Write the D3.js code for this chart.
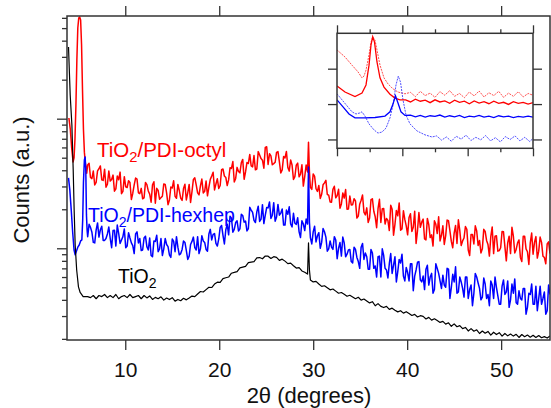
<!DOCTYPE html>
<html><head><meta charset="utf-8">
<script src="https://cdn.jsdelivr.net/npm/d3@7/dist/d3.min.js"></script>
<style>body{margin:0;background:#fff}svg text{font-family:"Liberation Sans",Arial,sans-serif}</style>
</head><body><svg id="chart" width="551" height="408"></svg>
<script>
// ---------- data ----------
const xDomain = [3.8, 55.2];
const yDomain = [19.6, 6200];
const xTicks = [10, 20, 30, 40, 50];
const xTickLabels = ["10", "20", "30", "40", "50"];
const yTicks = [20,30,40,50,60,70,80,90,100,200,300,400,500,600,700,800,900,1000,2000,3000,4000,5000,6000];
const yMajor = [100, 1000];
const xTitle = "2θ (degrees)";
const yTitle = "Counts (a.u.)";
const seriesNames = ["TiO2/PDI-octyl", "TiO2/PDI-hexhep", "TiO2"];

const redLow = [[4.0,1012],[4.15,830],[4.3,592],[4.45,464],[4.55,498],[4.65,701],[4.75,1275],[4.85,2838],[4.95,5012],[5.05,5984],[5.15,6090],[5.25,5777],[5.35,3704],[5.45,1665],[5.55,830],[5.65,552],[5.75,455],[5.85,416],[5.9,380]];
const redMain = [
[6.0,439],[6.3,352],[6.6,395],[6.9,322],[7.2,411],[7.5,337],[7.8,408],[8.1,312],[8.4,330],[8.7,367],
[9.0,287],[9.3,338],[9.6,264],[9.9,357],[10.2,294],[10.5,322],[10.8,266],[11.1,348],[11.4,268],[11.7,290],
[12.0,245],[12.3,310],[12.6,262],[12.9,309],[13.2,223],[13.5,280],[13.8,246],[14.1,314],[14.4,268],[14.7,236],
[15.0,292],[15.3,252],[15.6,311],[15.9,244],[16.2,289],[16.5,236],[16.8,311],[17.1,274],[17.4,350],[17.7,268],
[18.0,303],[18.3,267],[18.6,330],[18.9,296],[19.2,361],[19.5,282],[19.8,344],[20.1,305],[20.4,409],[20.7,352],
[21.0,337],[21.3,413],[21.6,325],[21.9,421],[22.2,382],[22.5,485],[22.8,388],[23.1,451],[23.4,432],[23.7,520],
[24.0,409],[24.3,524],[24.6,478],[24.9,601],[25.2,444],[25.5,516],[25.8,450],[26.1,550],[26.4,467],[26.7,403],
[27.0,498],[27.3,421],[27.6,480],[27.9,340],[28.2,438],[28.5,356],[28.8,441],[29.1,358],[29.4,388],[29.5,657],[29.6,388],
[29.7,295],[30.0,375],[30.3,288],[30.6,305],[30.9,261],[31.2,320],[31.5,260],[31.8,228],[32.1,285],[32.4,245],
[32.7,285],[33.0,220],[33.3,244],[33.6,200],[33.9,253],[34.2,217],[34.5,232],[34.8,177],[35.1,235],[35.4,190],
[35.7,205],[36.0,171],[36.3,241],[36.6,175],[36.9,202],[37.2,158],[37.5,203],[37.8,170],[38.1,137],[38.4,200],
[38.7,153],[39.0,178],[39.3,138],[39.6,195],[39.9,149],[40.2,173],[40.5,135],[40.8,193],[41.1,137],[41.4,145],
[41.7,168],[42.0,116],[42.3,152],[42.6,127],[42.9,163],[43.2,130],[43.5,114],[43.8,149],[44.1,125],[44.4,163],
[44.7,113],[45.0,131],[45.3,109],[45.6,137],[45.9,114],[46.2,147],[46.5,97],[46.8,128],[47.1,108],[47.4,136],
[47.7,115],[48.0,99],[48.3,135],[48.6,107],[48.9,123],[49.2,91],[49.5,125],[49.8,96],[50.1,135],[50.4,103],
[50.7,110],[51.0,91],[51.3,124],[51.6,98],[51.9,116],[52.2,79],[52.5,124],[52.8,94],[53.1,110],[53.4,90],
[53.7,123],[54.0,95],[54.3,111],[54.6,85],[54.9,108],[55.2,91]];
const redMid = [
[6.15,453],[6.45,345],[6.75,308],[7.05,396],[7.35,432],[7.65,334],[7.95,296],[8.25,395],[8.55,340],[8.85,276],
[9.15,361],[9.45,387],[9.75,275],[10.05,298],[10.35,332],[10.65,238],[10.95,308],[11.25,342],[11.55,264],[11.85,241],
[12.15,322],[12.45,277],[12.75,227],[13.05,326],[13.35,290],[13.65,239],[13.95,252],[14.25,311],[14.55,217],[14.85,297],
[15.15,332],[15.45,243],[15.75,279],[16.05,234],[16.35,312],[16.65,268],[16.95,226],[17.25,340],[17.55,308],[17.85,258],
[18.15,342],[18.45,275],[18.75,254],[19.05,340],[19.35,386],[19.65,313],[19.95,289],[20.25,404],[20.55,361],[20.85,305],
[21.15,418],[21.45,467],[21.75,346],[22.05,392],[22.35,457],[22.65,341],[22.95,459],[23.25,530],[23.55,425],[23.85,403],
[24.15,557],[24.45,492],[24.75,415],[25.05,607],[25.35,536],[25.65,441],[25.95,461],[26.25,557],[26.55,381],[26.85,511],
[27.15,558],[27.45,394],[27.75,439],[28.05,357],[28.35,454],[28.65,373],[28.95,302],[29.25,440],[29.85,285],
[30.15,359],[30.45,275],[30.75,242],[31.05,309],[31.35,334],[31.65,257],[31.95,227],[32.25,301],[32.55,255],[32.85,204],
[33.15,267],[33.45,284],[33.75,201],[34.05,216],[34.35,241],[34.65,171],[34.95,219],[35.25,258],[35.55,181],[35.85,158],
[36.15,237],[36.45,193],[36.75,144],[37.05,239],[37.35,202],[37.65,154],[37.95,164],[38.25,215],[38.55,126],[38.85,196],
[39.15,224],[39.45,141],[39.75,167],[40.05,127],[40.35,185],[40.65,145],[40.95,109],[41.25,189],[41.55,159],[41.85,118],
[42.15,170],[42.45,121],[42.75,104],[43.05,153],[43.35,175],[43.65,126],[43.95,107],[44.25,165],[44.55,136],[44.85,101],
[45.15,150],[45.45,166],[45.75,105],[46.05,120],[46.35,140],[46.65,88],[46.95,128],[47.25,149],[47.55,105],[47.85,92],
[48.15,140],[48.45,115],[48.75,87],[49.05,146],[49.35,124],[49.65,95],[49.95,101],[50.25,134],[50.55,80],[50.85,124],
[51.15,145],[51.45,92],[51.75,110],[52.05,85],[52.35,124],[52.65,99],[52.95,75],[53.25,131],[53.55,111],[53.85,84],
[54.15,122],[54.45,87],[54.75,76],[55.05,112]];

const blueLow = [[3.96,349],[4.1,282],[4.25,198],[4.4,134],[4.55,97],[4.67,89],[4.8,95],[4.95,102],[5.1,106],[5.25,114],[5.38,116],[5.47,165],[5.55,320],[5.65,480],[5.73,507],[5.8,402],[5.87,181],[5.94,138]];
const blueMain = [
[6.0,123],[6.3,145],[6.6,111],[6.9,138],[7.2,122],[7.5,148],[7.8,115],[8.1,129],[8.4,119],[8.7,137],
[9.0,104],[9.3,130],[9.6,116],[9.9,141],[10.2,104],[10.5,120],[10.8,105],[11.1,129],[11.4,110],[11.7,96],
[12.0,120],[12.3,103],[12.6,120],[12.9,86],[13.2,113],[13.5,94],[13.8,119],[14.1,99],[14.4,107],[14.7,89],
[15.0,118],[15.3,94],[15.6,102],[15.9,91],[16.2,114],[16.5,96],[16.8,87],[17.1,113],[17.4,101],[17.7,123],
[18.0,99],[18.3,114],[18.6,98],[18.9,129],[19.2,116],[19.5,130],[19.8,104],[20.1,145],[20.4,126],[20.7,139],
[21.0,127],[21.3,171],[21.6,140],[21.9,163],[22.2,141],[22.5,179],[22.8,162],[23.1,142],[23.4,197],[23.7,164],
[24.0,191],[24.3,161],[24.6,217],[24.9,180],[25.2,205],[25.5,170],[25.8,225],[26.1,174],[26.4,180],[26.7,201],
[27.0,151],[27.3,183],[27.6,154],[27.9,186],[28.2,153],[28.5,134],[28.8,163],[29.1,137],[29.4,154],[29.5,424],[29.6,159],
[29.7,121],[30.0,134],[30.3,112],[30.6,132],[30.9,111],[31.2,134],[31.5,95],[31.8,114],[32.1,98],[32.4,116],
[32.7,100],[33.0,87],[33.3,110],[33.6,90],[33.9,98],[34.2,77],[34.5,98],[34.8,79],[35.1,102],[35.4,82],
[35.7,86],[36.0,69],[36.3,92],[36.6,73],[36.9,86],[37.2,60],[37.5,88],[37.8,68],[38.1,76],[38.4,64],
[38.7,86],[39.0,66],[39.3,77],[39.6,61],[39.9,71],[40.2,56],[40.5,76],[40.8,61],[41.1,78],[41.4,57],
[41.7,61],[42.0,69],[42.3,52],[42.6,64],[42.9,48],[43.2,70],[43.5,56],[43.8,62],[44.1,50],[44.4,69],
[44.7,50],[45.0,55],[45.3,45],[45.6,60],[45.9,49],[46.2,60],[46.5,41],[46.8,52],[47.1,45],[47.4,60],
[47.7,49],[48.0,42],[48.3,53],[48.6,44],[48.9,56],[49.2,41],[49.5,50],[49.8,37],[50.1,51],[50.4,44],
[50.7,56],[51.0,40],[51.3,45],[51.6,38],[51.9,47],[52.2,40],[52.5,49],[52.8,35],[53.1,44],[53.4,37],
[53.7,51],[54.0,41],[54.3,37],[54.6,46],[54.9,33],[55.2,44]];
const blueMid = [
[6.15,153],[6.45,133],[6.75,110],[7.05,157],[7.35,139],[7.65,115],[7.95,119],[8.25,146],[8.55,101],[8.85,138],
[9.15,151],[9.45,109],[9.75,123],[10.05,101],[10.35,132],[10.65,110],[10.95,91],[11.25,134],[11.55,119],[11.85,97],
[12.15,124],[12.45,97],[12.75,88],[13.05,114],[13.35,126],[13.65,99],[13.95,88],[14.25,119],[14.55,103],[14.85,85],
[15.15,113],[15.45,123],[15.75,89],[16.05,98],[16.35,111],[16.65,82],[16.95,107],[17.25,122],[17.55,97],[17.85,91],
[18.15,125],[18.45,111],[18.75,95],[19.05,140],[19.35,128],[19.65,109],[19.95,118],[20.25,150],[20.55,108],[20.85,153],
[21.15,177],[21.45,133],[21.75,158],[22.05,136],[22.35,183],[22.65,159],[22.95,136],[23.25,207],[23.55,189],[23.85,158],
[24.15,211],[24.45,168],[24.75,155],[25.05,206],[25.35,228],[25.65,180],[25.95,162],[26.25,218],[26.55,187],[26.85,151],
[27.15,197],[27.45,209],[27.75,146],[28.05,156],[28.35,172],[28.65,121],[28.95,154],[29.25,168],[29.85,108],
[30.15,148],[30.45,125],[30.75,100],[31.05,142],[31.35,122],[31.65,99],[31.95,102],[32.25,123],[32.55,83],[32.85,111],
[33.15,122],[33.45,86],[33.75,97],[34.05,79],[34.35,102],[34.65,85],[34.95,70],[35.25,109],[35.55,92],[35.85,69],
[36.15,98],[36.45,70],[36.75,60],[37.05,87],[37.35,99],[37.65,70],[37.95,59],[38.25,91],[38.55,74],[38.85,55],
[39.15,82],[39.45,90],[39.75,56],[40.05,65],[40.35,76],[40.65,47],[40.95,68],[41.25,79],[41.55,55],[41.85,48],
[42.15,74],[42.45,60],[42.75,45],[43.05,76],[43.35,64],[43.65,49],[43.95,52],[44.25,70],[44.55,41],[44.85,63],
[45.15,72],[45.45,46],[45.75,55],[46.05,42],[46.35,60],[46.65,48],[46.95,36],[47.25,64],[47.55,54],[47.85,40],
[48.15,59],[48.45,41],[48.75,36],[49.05,52],[49.35,60],[49.65,43],[49.95,37],[50.25,57],[50.55,46],[50.85,35],
[51.15,53],[51.45,58],[51.75,37],[52.05,41],[52.35,49],[52.65,31],[52.95,45],[53.25,53],[53.55,37],[53.85,33],
[54.15,51],[54.45,41],[54.75,31],[55.05,52]];

const blackLow = [[3.96,3574],[4.14,1523],[4.32,894],[4.46,402],[4.56,198],[4.67,106],[4.83,68],[5.02,50.4],[5.2,45.6],[5.52,42.4]];
const blackMain = [
[6.0,42.4],[6.3,41.6],[6.6,43.2],[6.9,40.8],[7.2,43.2],[7.5,42.4],[7.8,44],[8.1,41.6],[8.4,43.2],[8.7,41.6],
[9.0,44],[9.3,40.8],[9.6,42.4],[9.9,43.2],[10.2,41.6],[10.5,44],[10.8,41.6],[11.1,42.4],[11.4,43.2],[11.7,40.8],
[12.0,43.2],[12.3,41.4],[12.6,42.9],[12.9,40.3],[13.2,41.8],[13.5,40.8],[13.8,42.2],[14.1,39.8],[14.4,41.3],[14.7,40.2],
[15.0,41.6],[15.3,39.1],[15.6,40.3],[15.9,39.4],[16.2,41.1],[16.5,40],[16.8,41.3],[17.1,42.8],[17.4,42.4],[17.7,44.4],
[18.0,46.4],[18.3,46],[18.6,48],[18.9,50],[19.2,49.8],[19.5,53],[19.8,54.8],[20.1,54.6],[20.4,58.4],[20.7,59.2],
[21.0,60],[21.3,64.2],[21.6,65.1],[21.9,66.1],[22.2,70.6],[22.5,71.6],[22.8,72.6],[23.1,77.5],[23.4,78.2],[23.7,78.9],
[24.0,84.2],[24.3,84.8],[24.6,83],[24.9,87.1],[25.2,86.9],[25.5,83.4],[25.8,86.1],[26.1,85],[26.4,80.7],[26.7,82.4],
[27.0,79.6],[27.3,76.1],[27.6,76.8],[27.9,73.4],[28.2,70.4],[28.5,71],[28.8,66.8],[29.1,65.3],[29.4,63.2],[29.5,110],[29.6,68],
[29.7,57],[30.0,55],[30.3,55.5],[30.6,53],[30.9,50.8],[31.2,51.4],[31.5,49.6],[31.8,47.8],[32.1,48.5],[32.4,46.7],
[32.7,45],[33.0,45.6],[33.3,44.1],[33.6,42.6],[33.9,43.4],[34.2,42.1],[34.5,40.8],[34.8,41.9],[35.1,39.8],[35.4,40.6],
[35.7,39.2],[36.0,37.9],[36.3,38.7],[36.6,36],[36.9,37.4],[37.2,35.6],[37.5,34.9],[37.8,35.6],[38.1,33.8],[38.4,34.5],
[38.7,33.3],[39.0,32.3],[39.3,33],[39.6,31.6],[39.9,32.4],[40.2,31.4],[40.5,30.3],[40.8,30.9],[41.1,29.5],[41.4,30.2],
[41.7,29.8],[42.0,28.5],[42.3,29.3],[42.6,27.9],[42.9,28.6],[43.2,27.7],[43.5,26.8],[43.8,27.3],[44.1,26],[44.4,26.6],
[44.7,25],[45.0,26.1],[45.3,24.8],[45.6,25.3],[45.9,24],[46.2,24.5],[46.5,23],[46.8,24],[47.1,22.9],[47.4,23.5],
[47.7,22],[48.0,23],[48.3,22.1],[48.6,22.8],[48.9,21.4],[49.2,22.5],[49.5,21.6],[49.8,22.3],[50.1,21],[50.4,22],
[50.7,21.1],[51.0,21.8],[51.3,21],[51.6,21.7],[51.9,20.5],[52.2,21.6],[52.5,20.8],[52.8,21.4],[53.1,20.6],[53.4,21.3],
[53.7,20.5],[54.0,21.2],[54.3,20.4],[54.6,20.8],[54.9,20.3],[55.2,21]];

// inset (arbitrary units)
const insetXDomain = [0, 6];
const insetYDomain = [0.75, 4.0];
const insetXTicks = [0,1,2,3,4,5,6];
const insetYTicks = [1,2,3];
const insetRedSolid = [[0,2.51],[0.245,2.34],[0.551,2.21],[0.765,2.31],[0.888,2.54],[0.98,3.1],[1.041,3.67],[1.093,3.9],[1.148,3.75],[1.224,3.19],[1.316,2.74],[1.439,2.48],[1.622,2.28],[1.775,2.17],[1.928,2.12],
[2.1,2.12],[2.25,2.06],[2.4,2.14],[2.55,2.08],[2.7,2.11],[2.85,2.04],[3.0,2.12],[3.15,2.06],[3.3,2.09],[3.45,2.02],[3.6,2.11],[3.75,2.05],[3.9,2.08],[4.05,2.01],[4.2,2.09],[4.35,2.03],[4.5,2.07],[4.65,2.01],[4.8,2.08],[4.95,2.02],[5.1,2.05],[5.25,1.99],[5.4,2.07],[5.55,2.02],[5.7,2.05],[5.85,2.0],[6.0,2.04]];
const insetRedDotted = [[0,3.53],[0.245,3.33],[0.459,3.1],[0.643,2.91],[0.765,2.74],[0.826,2.79],[0.888,2.96],[0.98,3.39],[1.041,3.75],[1.093,3.9],[1.163,3.81],[1.224,3.53],[1.316,3.1],[1.439,2.74],[1.561,2.57],[1.714,2.43],[1.867,2.34],[2.081,2.29],
[2.25,2.33],[2.4,2.21],[2.55,2.36],[2.7,2.24],[2.85,2.31],[3.0,2.19],[3.15,2.35],[3.3,2.25],[3.45,2.38],[3.6,2.22],[3.75,2.3],[3.9,2.18],[4.05,2.34],[4.2,2.23],[4.35,2.37],[4.5,2.2],[4.65,2.32],[4.8,2.24],[4.95,2.36],[5.1,2.19],[5.25,2.31],[5.4,2.22],[5.55,2.35],[5.7,2.2],[5.85,2.3],[6.0,2.25]];
const insetBlueSolid = [[0,2.12],[0.184,1.92],[0.367,1.72],[0.551,1.61],[0.857,1.61],[1.163,1.62],[1.469,1.66],[1.622,1.78],[1.714,2.0],[1.791,2.23],[1.867,2.03],[1.959,1.78],[2.081,1.68],
[2.25,1.69],[2.4,1.64],[2.55,1.68],[2.7,1.63],[2.85,1.67],[3.0,1.65],[3.15,1.69],[3.3,1.63],[3.45,1.67],[3.6,1.64],[3.75,1.68],[3.9,1.62],[4.05,1.66],[4.2,1.64],[4.35,1.68],[4.5,1.63],[4.65,1.66],[4.8,1.62],[4.95,1.67],[5.1,1.64],[5.25,1.66],[5.4,1.62],[5.55,1.65],[5.7,1.63],[5.85,1.66],[6.0,1.63]];
const insetBlueDotted = [[0,2.29],[0.153,2.12],[0.306,1.95],[0.459,1.78],[0.582,1.72],[0.704,1.75],[0.765,1.78],[0.857,1.66],[0.98,1.44],[1.133,1.27],[1.255,1.18],[1.377,1.21],[1.5,1.32],[1.622,1.61],[1.714,1.97],[1.806,2.54],[1.876,2.79],[1.944,2.62],[2.02,2.12],[2.112,1.69],[2.234,1.44],[2.449,1.24],[2.694,1.13],[2.908,1.07],
[3.05,1.1],[3.2,0.98],[3.35,1.07],[3.5,0.95],[3.65,1.09],[3.8,1.01],[3.95,1.12],[4.1,0.97],[4.25,1.06],[4.4,0.99],[4.55,1.11],[4.7,0.96],[4.85,1.05],[5.0,0.93],[5.15,1.08],[5.3,1.0],[5.45,1.1],[5.6,0.96],[5.75,1.06],[5.9,0.94],[6.0,1.03]];

// ---------- drawing ----------
const svg = d3.select("#chart");
const P = {l:67, r:550, t:16, b:340};
const axisColor = "#333";
const x = d3.scaleLinear().domain(xDomain).range([P.l, P.r]);
const y = d3.scaleLog().domain(yDomain).range([P.b, P.t]);
const byTheta = (a,b) => a[0]-b[0];

svg.append("defs").append("clipPath").attr("id","clipMain")
  .append("rect").attr("x",P.l).attr("y",P.t).attr("width",P.r-P.l).attr("height",P.b-P.t);

const line = d3.line().x(d=>x(d[0])).y(d=>y(d[1]));
const plot = svg.append("g").attr("clip-path","url(#clipMain)");
const series = [
  {data: redLow.concat(redMain, redMid).sort(byTheta), color:"#ff0000", w:1.5},
  {data: blueLow.concat(blueMain, blueMid).sort(byTheta), color:"#0000ff", w:1.5},
  {data: blackLow.concat(blackMain), color:"#000000", w:1.2}
];
series.forEach(s => {
  plot.append("path").datum(s.data).attr("d", line)
    .attr("fill","none").attr("stroke", s.color).attr("stroke-width", s.w)
    .attr("stroke-linejoin","round");
});

// axes
const gB = svg.append("g").attr("transform",`translate(0,${P.b})`)
  .call(d3.axisBottom(x).tickValues(xTicks).tickSize(10).tickPadding(12)
        .tickFormat((d,i)=>xTickLabels[i]));
const gT = svg.append("g").attr("transform",`translate(0,${P.t})`)
  .call(d3.axisTop(x).tickValues(xTicks).tickSize(10).tickFormat(""));
const gL = svg.append("g").attr("transform",`translate(${P.l},0)`)
  .call(d3.axisLeft(y).tickValues(yTicks).tickSize(5).tickFormat(""));
gL.selectAll(".tick line").attr("x2", d => yMajor.includes(d) ? -10 : -5);
[gB,gT,gL].forEach(g=>{
  g.select(".domain").remove();
  g.selectAll(".tick line").attr("stroke",axisColor).attr("stroke-width",1.3);
});
gB.selectAll(".tick text").attr("font-size","21px").attr("fill","#111")
  .attr("font-family","'Liberation Sans', Arial, sans-serif");

svg.append("rect").attr("x",P.l).attr("y",P.t).attr("width",P.r-P.l).attr("height",P.b-P.t)
  .attr("fill","none").attr("stroke",axisColor).attr("stroke-width",1.5);

// titles
svg.append("text").attr("x",309).attr("y",403).attr("text-anchor","middle")
  .attr("font-size","22px").attr("fill","#111").text(xTitle);
svg.append("text").attr("transform","translate(28.5,180) rotate(-90)").attr("text-anchor","middle")
  .attr("font-size","22px").attr("fill","#111").text(yTitle);

// series labels with subscript
function label(xp, yp, color, name, fs){
  const t = svg.append("text").attr("x",xp).attr("y",yp).attr("fill",color).attr("font-size",fs+"px");
  const parts = name.split("2");
  t.append("tspan").text(parts[0]);
  t.append("tspan").attr("font-size",(fs*0.72)+"px").attr("dy",5).text("2");
  if (parts[1]) t.append("tspan").attr("dy",-5).text(parts[1]);
}
label(97,157,"#ff0000",seriesNames[0],20.5);
label(88,222,"#0000ff",seriesNames[1],19.5);
label(118,283,"#000000",seriesNames[2],19.5);

// inset
const I = {l:337, r:533, t:33.3, b:148.3};
const xi = d3.scaleLinear().domain(insetXDomain).range([I.l, I.r]);
const yi = d3.scaleLinear().domain(insetYDomain).range([I.b, I.t]);
const gi = svg.append("g");
gi.append("rect").attr("x",I.l).attr("y",I.t).attr("width",I.r-I.l).attr("height",I.b-I.t).attr("fill","#fff");
gi.append("clipPath").attr("id","clipInset").append("rect")
  .attr("x",I.l).attr("y",I.t).attr("width",I.r-I.l).attr("height",I.b-I.t);
const li = d3.line().x(d=>xi(d[0])).y(d=>yi(d[1]));
const ip = gi.append("g").attr("clip-path","url(#clipInset)");
[
  {d:insetRedDotted, c:"#ff3030", dash:"2,1", w:1, o:0.85},
  {d:insetBlueDotted, c:"#3030ff", dash:"2,1", w:1, o:0.85},
  {d:insetRedSolid, c:"#ff0000", dash:null, w:1.3, o:1},
  {d:insetBlueSolid, c:"#0000ff", dash:null, w:1.3, o:1}
].forEach(s=>{
  ip.append("path").datum(s.d).attr("d",li).attr("fill","none").attr("stroke",s.c)
    .attr("stroke-width",s.w).attr("stroke-dasharray",s.dash).attr("opacity",s.o);
});
const giB = gi.append("g").attr("transform",`translate(0,${I.b})`)
  .call(d3.axisBottom(xi).tickValues(insetXTicks).tickSize(8).tickFormat(""));
const giT = gi.append("g").attr("transform",`translate(0,${I.t})`)
  .call(d3.axisTop(xi).tickValues(insetXTicks).tickSize(8).tickFormat(""));
giB.selectAll(".tick line").attr("y2", d => d%2===0 ? 8 : 4);
giT.selectAll(".tick line").attr("y2", d => d%2===0 ? -8 : -4);
const giL = gi.append("g").attr("transform",`translate(${I.l},0)`)
  .call(d3.axisLeft(yi).tickValues(insetYTicks).tickSize(9).tickFormat(""));
const giR = gi.append("g").attr("transform",`translate(${I.r},0)`)
  .call(d3.axisRight(yi).tickValues(insetYTicks).tickSize(9).tickFormat(""));
[giB,giT,giL,giR].forEach(g=>{
  g.select(".domain").remove();
  g.selectAll(".tick line").attr("stroke",axisColor).attr("stroke-width",1.3);
});
gi.append("rect").attr("x",I.l).attr("y",I.t).attr("width",I.r-I.l).attr("height",I.b-I.t)
  .attr("fill","none").attr("stroke",axisColor).attr("stroke-width",1.5);
</script></body></html>
